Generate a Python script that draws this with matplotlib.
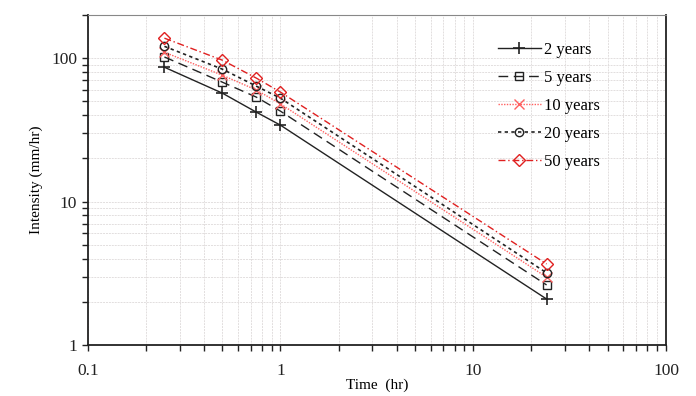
import matplotlib.pyplot as plt
from matplotlib.ticker import LogLocator, FixedLocator, NullFormatter

plt.rcParams['font.family'] = ['Liberation Serif', 'DejaVu Serif']

# durations (hr)
time_hr = [0.25, 0.5, 0.75, 1.0, 24.0]

# intensity (mm/hr) per return period
i_2yr = [86.5, 57.0, 42.0, 34.1, 2.09]
i_5yr = [102.0, 68.0, 53.5, 42.7, 2.62]
i_10yr = [110.0, 76.0, 60.0, 48.0, 2.97]
i_20yr = [121.0, 83.8, 63.8, 52.6, 3.18]
i_50yr = [138.0, 96.8, 72.6, 58.0, 3.67]

labels = ["2 years", "5 years", "10 years", "20 years", "50 years"]

fig = plt.figure(figsize=(6.96, 3.96), dpi=100)
ax = fig.add_axes([0.126, 0.129, 0.831, 0.833])

ax.plot(time_hr, i_2yr, color='#222222', ls='-', lw=1, marker='+', ms=9,
        mew=1.2, label=labels[0])
ax.plot(time_hr, i_5yr, color='#222222', ls=(0, (7, 4)), lw=1, marker='s', ms=6,
        mfc='none', mew=1, label=labels[1])
ax.plot(time_hr, i_10yr, color='#ff6060', ls=(0, (1, 1)), lw=1, marker='x', ms=7,
        mew=1, label=labels[2])
ax.plot(time_hr, i_20yr, color='#222222', ls=(0, (2, 2)), lw=1.2, marker='o', ms=6,
        mfc='none', mew=1, label=labels[3])
ax.plot(time_hr, i_50yr, color='#e02020', ls=(0, (5, 2, 1, 2)), lw=1, marker='D', ms=6,
        mfc='none', mew=1, label=labels[4])

ax.set_xscale('log')
ax.set_yscale('log')
ax.set_xlim(0.1, 100)
ax.set_ylim(1, 200)

ax.xaxis.set_major_locator(FixedLocator([0.1, 1, 10, 100]))
ax.set_xticklabels(['0.1', '1', '10', '100'])
ax.yaxis.set_major_locator(FixedLocator([1, 10, 100]))
ax.set_yticklabels(['1', '10', '100'])
ax.xaxis.set_minor_locator(LogLocator(base=10, subs=range(2, 10)))
ax.yaxis.set_minor_locator(LogLocator(base=10, subs=range(2, 10)))
ax.xaxis.set_minor_formatter(NullFormatter())
ax.yaxis.set_minor_formatter(NullFormatter())

ax.grid(which='both', color='#e2dede', ls=(0, (2, 1)), lw=0.7)
ax.set_axisbelow(True)

ax.tick_params(which='both', direction='out', length=4, width=1, labelsize=12.5,
               colors='#222222')
ax.tick_params(axis='x', pad=9)
for side in ['left', 'bottom', 'right']:
    ax.spines[side].set_linewidth(1.3)
    ax.spines[side].set_color('#222222')
ax.spines['top'].set_color('#888888')

ax.set_xlabel('Time  (hr)', fontsize=11, labelpad=0)
ax.set_ylabel('Intensity (mm/hr)', fontsize=11, labelpad=6)

ax.legend(loc='upper left', bbox_to_anchor=(0.709, 0.918), frameon=False,
          borderaxespad=0, borderpad=0, fontsize=12, handlelength=2.6,
          labelspacing=0.72, handletextpad=0.2)

fig.savefig('out.png', dpi=100)
